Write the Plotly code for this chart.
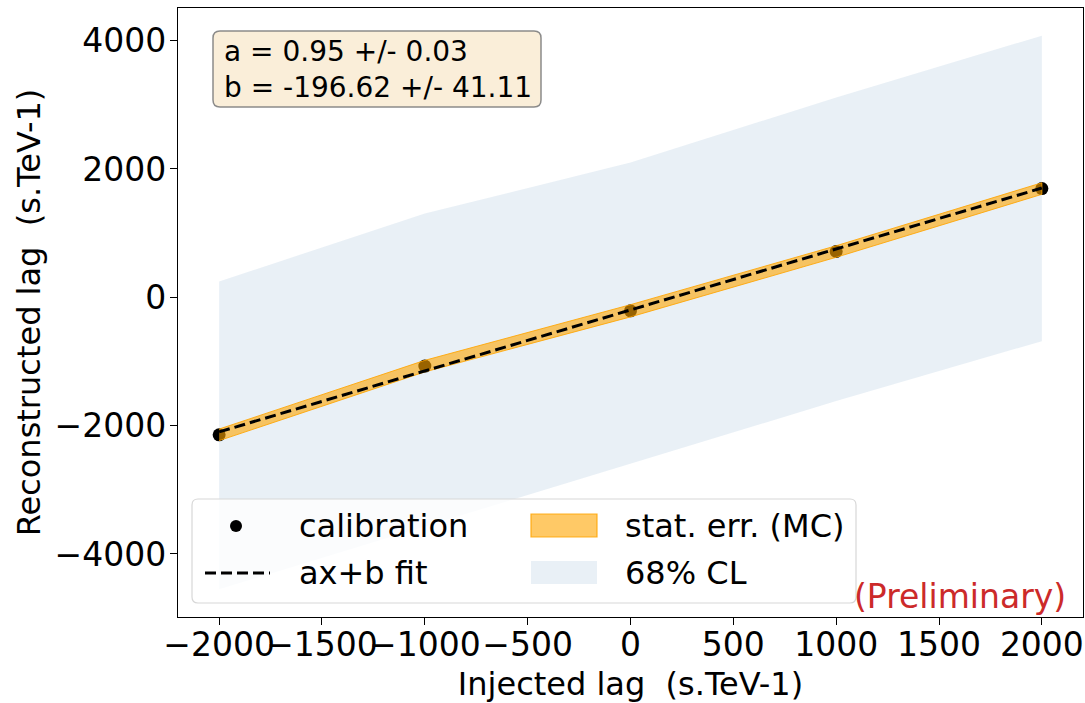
import plotly.graph_objects as go

# ---- data ----
injected = [-2000, -1000, 0, 1000, 2000]
reconstructed = [-2143, -1072, -210, 714, 1695]
stat_err = [90, 90, 95, 90, 90]
cl68_upper = [248, 1305, 2100, 3114, 4078]
cl68_lower = [-4551, -3570, -2590, -1617, -683]
fit_a = 0.95
fit_a_err = 0.03
fit_b = -196.62
fit_b_err = 41.11
x_ticks = [-2000, -1500, -1000, -500, 0, 500, 1000, 1500, 2000]
y_ticks = [-4000, -2000, 0, 2000, 4000]
legend_labels = ["calibration", "ax+b fit", "stat. err. (MC)", "68% CL"]

fit_x = [injected[0], injected[-1]]
fit_y = [fit_a * v + fit_b for v in fit_x]

FONT = "DejaVu Sans"
CL_FILL = "rgba(70,130,180,0.12)"
ST_FILL = "rgba(255,165,0,0.6)"
ST_LINE = "rgba(255,165,0,0.85)"

fig = go.Figure()

# 68% CL band
fig.add_trace(go.Scatter(
    x=injected + injected[::-1],
    y=cl68_upper + cl68_lower[::-1],
    fill="toself", mode="lines", fillcolor=CL_FILL,
    line=dict(width=0, color=CL_FILL), hoverinfo="skip",
))

# calibration points
fig.add_trace(go.Scatter(
    x=injected, y=reconstructed, mode="markers",
    marker=dict(color="black", size=13),
))

# stat err band
st_up = [r + e for r, e in zip(reconstructed, stat_err)]
st_lo = [r - e for r, e in zip(reconstructed, stat_err)]
fig.add_trace(go.Scatter(
    x=injected + injected[::-1],
    y=st_up + st_lo[::-1],
    fill="toself", mode="lines", fillcolor=ST_FILL,
    line=dict(width=1, color=ST_LINE), hoverinfo="skip",
))

# fit line
fig.add_trace(go.Scatter(
    x=fit_x, y=fit_y, mode="lines",
    line=dict(color="black", width=3, dash="11px,5px"),
))

x0, w = 178, 905
ytop, h = 8, 609


def px(xp):
    return (xp - x0) / w


def py(yp):
    return (ytop + h - yp) / h


def rounded_rect(xa, ya, xb, yb, r=6):
    # pixel coords -> paper path with rounded corners
    rx, ry = r / w, r / h
    L, R, T, B = px(xa), px(xb), py(ya), py(yb)
    return (f"M{L+rx},{T} L{R-rx},{T} Q{R},{T} {R},{T-ry} "
            f"L{R},{B+ry} Q{R},{B} {R-rx},{B} L{L+rx},{B} "
            f"Q{L},{B} {L},{B+ry} L{L},{T-ry} Q{L},{T} {L+rx},{T} Z")


# text box
fig.add_shape(type="path", xref="paper", yref="paper",
              path=rounded_rect(213, 31, 541, 107, 7),
              fillcolor="rgba(245,222,179,0.5)",
              line=dict(color="rgba(128,128,128,0.9)", width=1.5),
              layer="above")
fig.add_annotation(xref="paper", yref="paper", x=px(222), y=py(69),
                   xanchor="left", yanchor="middle", showarrow=False,
                   align="left",
                   text=(f"a = {fit_a:.2f} +/- {fit_a_err:.2f}<br>"
                         f"b = {fit_b:.2f} +/- {fit_b_err:.2f}"),
                   font=dict(family=FONT, size=28, color="black"))

# legend (drawn manually, matplotlib style)
fig.add_shape(type="path", xref="paper", yref="paper",
              path=rounded_rect(192, 499, 856, 603, 6),
              fillcolor="rgba(255,255,255,0.8)",
              line=dict(color="rgba(215,215,215,1)", width=1.2),
              layer="above")
fig.add_shape(type="circle", xref="paper", yref="paper",
              x0=px(230), x1=px(242), y0=py(532), y1=py(520),
              fillcolor="black", line=dict(width=0), layer="above")
fig.add_shape(type="line", xref="paper", yref="paper",
              x0=px(205), x1=px(270), y0=py(573), y1=py(573),
              line=dict(color="black", width=3, dash="11px,5px"),
              layer="above")
fig.add_shape(type="rect", xref="paper", yref="paper",
              x0=px(531), x1=px(597), y0=py(537), y1=py(514),
              fillcolor=ST_FILL, line=dict(color=ST_LINE, width=1.2),
              layer="above")
fig.add_shape(type="rect", xref="paper", yref="paper",
              x0=px(531), x1=px(597), y0=py(584), y1=py(561),
              fillcolor=CL_FILL, line=dict(width=0), layer="above")
for lbl, lx, ly in zip(legend_labels, [297, 297, 623, 623], [526, 573, 526, 573]):
    fig.add_annotation(xref="paper", yref="paper", x=px(lx), y=py(ly),
                       xanchor="left", yanchor="middle", showarrow=False,
                       text=lbl, font=dict(family=FONT, size=32, color="black"))

fig.add_annotation(xref="paper", yref="paper", x=px(1068), y=py(596),
                   xanchor="right", yanchor="middle", showarrow=False,
                   text="(Preliminary)",
                   font=dict(family=FONT, size=33, color="#cc2a2a"))

axis_common = dict(
    showline=True, linecolor="black", linewidth=1.3, mirror=True,
    ticks="outside", ticklen=7, tickwidth=1.3, tickcolor="black",
    showgrid=False, zeroline=False, automargin=False, tickangle=0,
    tickfont=dict(family=FONT, size=33, color="black"),
)

fig.update_layout(
    width=1085, height=703,
    margin=dict(l=178, r=2, t=8, b=86),
    paper_bgcolor="white", plot_bgcolor="white",
    font=dict(family=FONT, color="black"),
    showlegend=False,
    xaxis=dict(
        range=[-2200, 2200], tickvals=x_ticks, ticklabelstandoff=-9,
        title=dict(text="Injected lag  (s.TeV-1)", standoff=14,
                   font=dict(family=FONT, size=32)),
        **axis_common,
    ),
    yaxis=dict(
        range=[-4982, 4509], tickvals=y_ticks, ticklabelstandoff=-3,
        title=dict(text="Reconstructed lag  (s.TeV-1)", standoff=4,
                   font=dict(family=FONT, size=32)),
        **axis_common,
    ),
)

fig.write_html("out.html")
